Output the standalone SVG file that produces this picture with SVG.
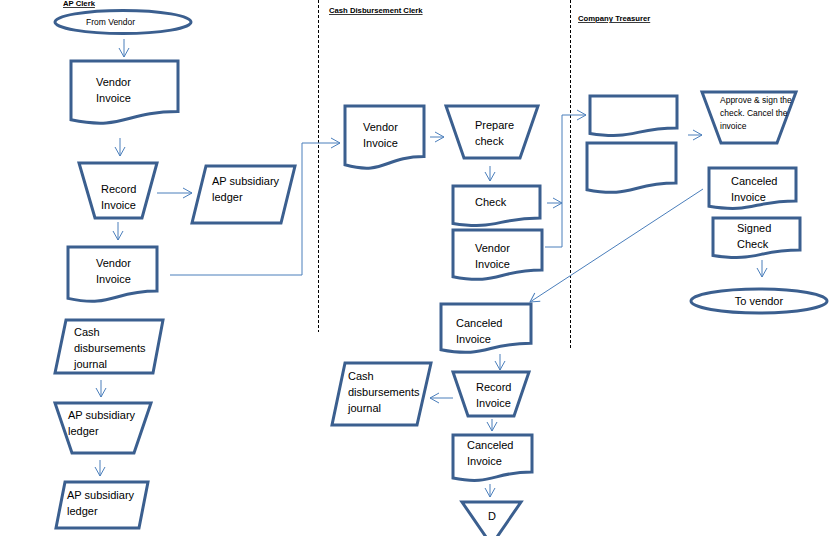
<svg xmlns="http://www.w3.org/2000/svg" width="835" height="536" viewBox="0 0 835 536">
<defs>
<style>
.n{fill:#fff;stroke:#3B5F8F;stroke-width:3;stroke-linejoin:miter}
.t{font-family:"Liberation Sans",Arial,sans-serif;font-size:11px;fill:#000}
.s{font-family:"Liberation Sans",Arial,sans-serif;font-size:8.5px;fill:#000}
.h{font-family:"Liberation Sans",Arial,sans-serif;font-size:7.7px;font-weight:bold;text-decoration:underline;fill:#000}
.c{fill:none;stroke:#4A7EBB;stroke-width:1}
.d{fill:none;stroke:#000;stroke-width:1;stroke-dasharray:3,2}
</style>
<marker id="ar" markerUnits="userSpaceOnUse" markerWidth="12" markerHeight="12" viewBox="0 0 12 12" refX="10" refY="6" orient="auto">
<path d="M1,1 L10,6 L1,11" fill="none" stroke="#4A7EBB" stroke-width="1"/>
</marker>
</defs>
<rect width="835" height="536" fill="#fff"/>

<g id="lanes">
<line class="d" x1="318.5" y1="0" x2="318.5" y2="332"/>
<line class="d" x1="570.5" y1="0" x2="570.5" y2="350"/>
<text class="h" x="63" y="6">AP Clerk</text>
<text class="h" x="329" y="13">Cash Disbursement Clerk</text>
<text class="h" x="578" y="21">Company Treasurer</text>
</g>

<g id="connectors">
<line class="c" x1="124" y1="39" x2="124" y2="57" marker-end="url(#ar)"/>
<line class="c" x1="120" y1="138" x2="120" y2="156" marker-end="url(#ar)"/>
<line class="c" x1="157" y1="193" x2="192" y2="193" marker-end="url(#ar)"/>
<line class="c" x1="118" y1="222" x2="118" y2="240" marker-end="url(#ar)"/>
<polyline class="c" points="170,275 302,275 302,143 340,143" marker-end="url(#ar)"/>
<line class="c" x1="430" y1="137" x2="444" y2="137" marker-end="url(#ar)"/>
<line class="c" x1="490" y1="166" x2="490" y2="181" marker-end="url(#ar)"/>
<line class="c" x1="547" y1="203" x2="562" y2="203" marker-end="url(#ar)"/>
<polyline class="c" points="545,247 562,247 562,115 586,115" marker-end="url(#ar)"/>
<line class="c" x1="688" y1="135" x2="702" y2="135" marker-end="url(#ar)"/>
<line class="c" x1="703" y1="189" x2="530" y2="302" marker-end="url(#ar)"/>
<line class="c" x1="762" y1="260" x2="762" y2="277" marker-end="url(#ar)"/>
<line class="c" x1="500" y1="354" x2="500" y2="370" marker-end="url(#ar)"/>
<line class="c" x1="453" y1="398" x2="430" y2="398" marker-end="url(#ar)"/>
<line class="c" x1="492" y1="419" x2="492" y2="431" marker-end="url(#ar)"/>
<line class="c" x1="490" y1="484" x2="490" y2="497" marker-end="url(#ar)"/>
<line class="c" x1="101" y1="380" x2="101" y2="397" marker-end="url(#ar)"/>
<line class="c" x1="100" y1="460" x2="100" y2="476" marker-end="url(#ar)"/>
</g>

<g id="from-vendor">
<ellipse class="n" cx="123" cy="22" rx="68" ry="11.5"/>
<text class="s" x="86" y="25">From Vendor</text>
</g>

<g id="vendor-invoice-1">
<path class="n" d="M71,61 H178 V111.5 C124.5,111.5 124.5,130.7 71,119.8 Z"/>
<text class="t" x="96" y="86">Vendor</text>
<text class="t" x="96" y="102">Invoice</text>
</g>

<g id="record-invoice-1">
<path class="n" d="M79,163 H157 L142,218 H95 Z"/>
<text class="t" x="101" y="193">Record</text>
<text class="t" x="101" y="209">Invoice</text>
</g>

<g id="ap-ledger-1">
<path class="n" d="M206,166 H295 L281,223 H192 Z"/>
<text class="t" x="212" y="185">AP subsidiary</text>
<text class="t" x="212" y="201">ledger</text>
</g>

<g id="vendor-invoice-2">
<path class="n" d="M68,247 H157 V291.1 C112.5,291.1 112.5,307.9 68,298.4 Z"/>
<text class="t" x="96" y="267">Vendor</text>
<text class="t" x="96" y="283">Invoice</text>
</g>

<g id="cash-journal-1">
<path class="n" d="M66,320 H163 L153,373 H55 Z"/>
<text class="t" x="74" y="336">Cash</text>
<text class="t" x="74" y="352">disbursements</text>
<text class="t" x="74" y="368">journal</text>
</g>

<g id="ap-ledger-2">
<path class="n" d="M55,403 H151 L134,453 H72 Z"/>
<text class="t" x="68" y="419">AP subsidiary</text>
<text class="t" x="68" y="435">ledger</text>
</g>

<g id="ap-ledger-3">
<path class="n" d="M65,482 H148 L139,528 H56 Z"/>
<text class="t" x="67" y="499">AP subsidiary</text>
<text class="t" x="67" y="515">ledger</text>
</g>

<g id="vendor-invoice-3">
<path class="n" d="M345,106 H424 V156.5 C384.5,156.5 384.5,175.7 345,164.8 Z"/>
<text class="t" x="363" y="131">Vendor</text>
<text class="t" x="363" y="147">Invoice</text>
</g>

<g id="prepare-check">
<path class="n" d="M446,106 H538 L520,158 H464 Z"/>
<text class="t" x="475" y="129">Prepare</text>
<text class="t" x="475" y="145">check</text>
</g>

<g id="check">
<path class="n" d="M453,186 H540 V218.1 C496.5,218.1 496.5,230.3 453,223.4 Z"/>
<text class="t" x="475" y="206">Check</text>
</g>

<g id="vendor-invoice-4">
<path class="n" d="M453,230 H542 V270.1 C497.5,270.1 497.5,285.4 453,276.7 Z"/>
<text class="t" x="475" y="252">Vendor</text>
<text class="t" x="475" y="268">Invoice</text>
</g>

<g id="doc-blank-1">
<path class="n" d="M590,96 H677 V128.1 C633.5,128.1 633.5,140.3 590,133.4 Z"/>
</g>

<g id="doc-blank-2">
<path class="n" d="M587,143 H676 V183.1 C631.5,183.1 631.5,198.4 587,189.7 Z"/>
</g>

<g id="approve">
<path class="n" d="M702,92 H796 L777,143 H721 Z"/>
<text class="s" x="720" y="103">Approve &amp; sign the</text>
<text class="s" x="720" y="116">check. Cancel the</text>
<text class="s" x="720" y="129">invoice</text>
</g>

<g id="canceled-invoice-1">
<path class="n" d="M709,168 H796 V200.9 C752.5,200.9 752.5,213.4 709,206.3 Z"/>
<text class="t" x="731" y="185">Canceled</text>
<text class="t" x="731" y="201">Invoice</text>
</g>

<g id="signed-check">
<path class="n" d="M713,218 H800 V250.1 C756.5,250.1 756.5,262.3 713,255.4 Z"/>
<text class="t" x="737" y="232">Signed</text>
<text class="t" x="737" y="248">Check</text>
</g>

<g id="to-vendor">
<ellipse class="n" cx="759" cy="301" rx="68" ry="12"/>
<text class="t" x="759" y="305" text-anchor="middle">To vendor</text>
</g>

<g id="canceled-invoice-2">
<path class="n" d="M441,304 H531 V343.3 C486,343.3 486,358.2 441,349.8 Z"/>
<text class="t" x="456" y="327">Canceled</text>
<text class="t" x="456" y="343">Invoice</text>
</g>

<g id="record-invoice-2">
<path class="n" d="M453,372 H529 L514,416 H468 Z"/>
<text class="t" x="476" y="391">Record</text>
<text class="t" x="476" y="407">Invoice</text>
</g>

<g id="cash-journal-2">
<path class="n" d="M345,363 H431 L417,425 H332 Z"/>
<text class="t" x="348" y="380">Cash</text>
<text class="t" x="348" y="396">disbursements</text>
<text class="t" x="348" y="412">journal</text>
</g>

<g id="canceled-invoice-3">
<path class="n" d="M453,435 H532 V471.9 C492.5,471.9 492.5,485.9 453,478 Z"/>
<text class="t" x="467" y="449">Canceled</text>
<text class="t" x="467" y="465">Invoice</text>
</g>

<g id="file-d">
<path class="n" d="M462,502 H521 L491.5,545 Z"/>
<text class="t" x="492" y="520" text-anchor="middle">D</text>
</g>
</svg>
